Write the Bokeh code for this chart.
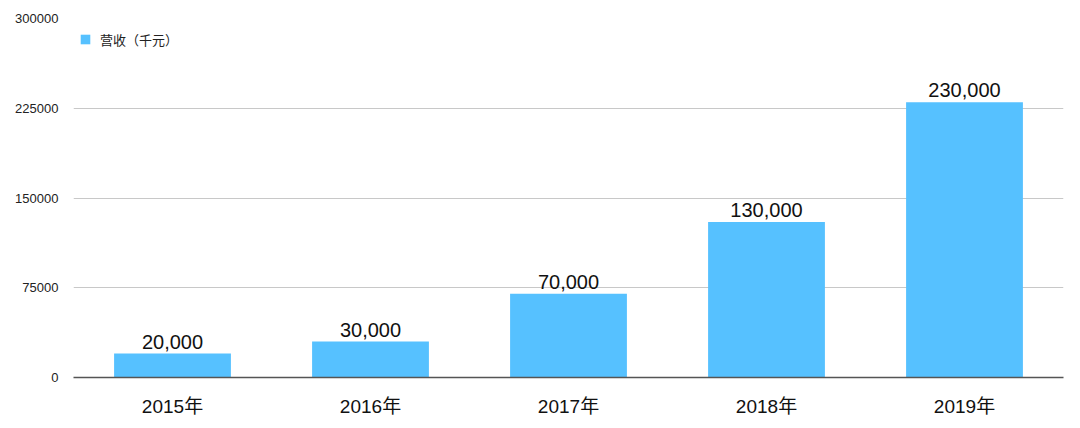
from bokeh.plotting import figure
from bokeh.models import ColumnDataSource, FixedTicker, NumeralTickFormatter, Legend, LegendItem
from bokeh.embed import file_html
from bokeh.resources import INLINE

years = ['2015年', '2016年', '2017年', '2018年', '2019年']
revenue = [20000, 30000, 70000, 130000, 230000]
labels = ['20,000', '30,000', '70,000', '130,000', '230,000']
y_ticks = [0, 75000, 150000, 225000, 300000]

FONT = "Liberation Sans, Noto Sans CJK SC"

source = ColumnDataSource(data={'year': years, 'revenue': revenue, 'label': labels})

p = figure(x_range=years, y_range=(0, 300000), width=1072, height=420,
           output_backend="svg", toolbar_location=None,
           min_border_left=73, min_border_right=9, min_border_top=18, min_border_bottom=43)
p.outline_line_color = None

bars = p.vbar(x='year', top='revenue', width=0.59, source=source,
              fill_color='#56C1FF', line_color=None)
p.text(x='year', y='revenue', text='label', source=source, y_offset=-5,
       text_align='center', text_baseline='bottom', text_font_size='20px',
       text_color='#111111', text_font={'value': FONT})

p.yaxis.ticker = FixedTicker(ticks=y_ticks)
p.yaxis.formatter = NumeralTickFormatter(format='0')
p.yaxis.axis_line_color = None
p.yaxis.major_tick_line_color = None
p.yaxis.minor_tick_line_color = None
p.yaxis.major_label_standoff = 9
p.yaxis.major_label_text_font_size = '13px'
p.yaxis.major_label_text_font = FONT
p.yaxis.major_label_text_color = '#222222'

p.xaxis.axis_line_color = '#555555'
p.xaxis.axis_line_width = 1.5
p.xaxis.major_tick_line_color = None
p.xaxis.minor_tick_line_color = None
p.xaxis.major_label_standoff = 12
p.xaxis.major_label_text_font_size = '19px'
p.xaxis.major_label_text_font = FONT
p.xaxis.major_label_text_color = '#111111'

p.xgrid.grid_line_color = None
p.ygrid.ticker = FixedTicker(ticks=y_ticks)
p.ygrid.grid_line_color = '#C8C8C8'
p.ygrid.grid_line_width = 1

legend = Legend(items=[LegendItem(label='营收（千元）', renderers=[bars])],
                location='top_left', margin=6, padding=0,
                label_height=30, glyph_height=12, glyph_width=12, label_standoff=9,
                label_text_font_size='13px', label_text_font=FONT,
                label_text_color='#222222',
                border_line_color=None, background_fill_alpha=0)
p.add_layout(legend)

open("out.html", "w").write(file_html(p, INLINE))
